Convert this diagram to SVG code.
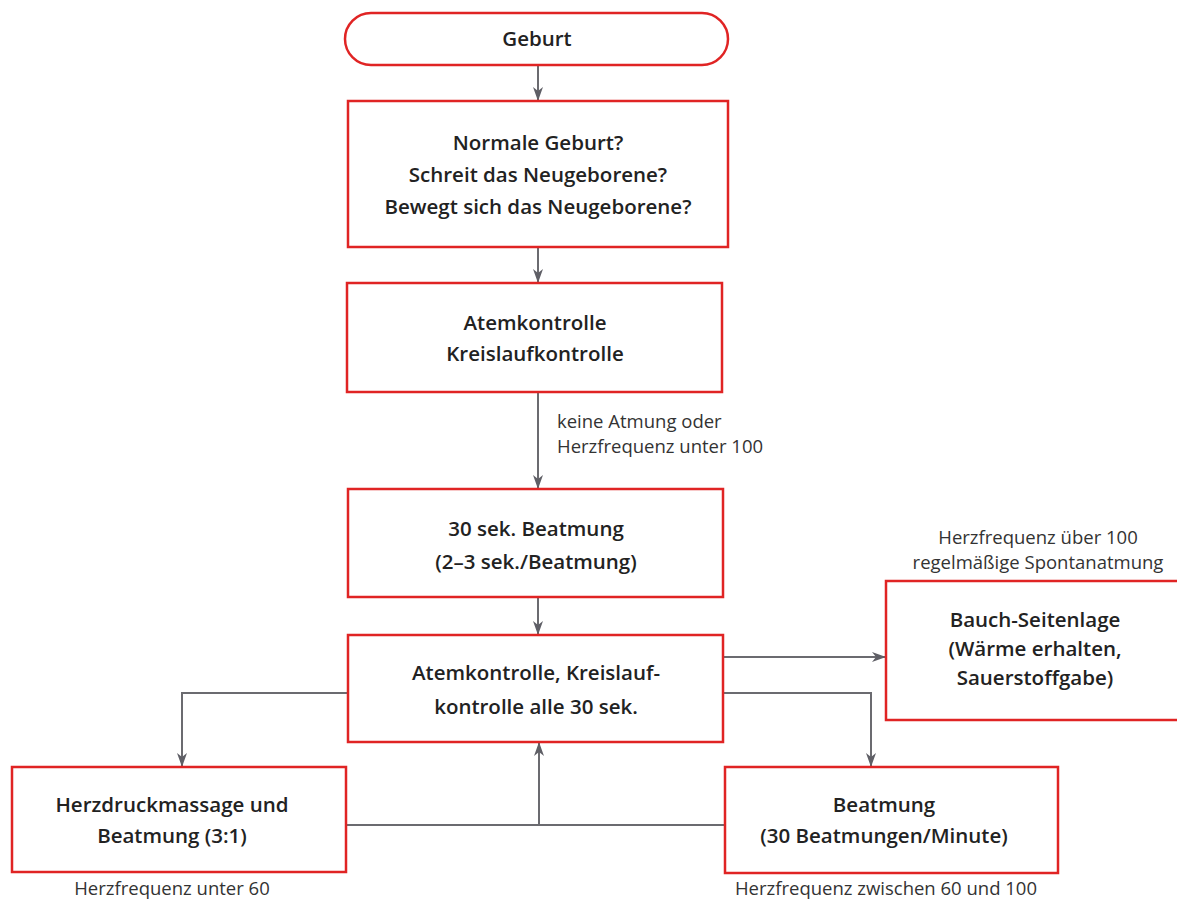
<svg xmlns="http://www.w3.org/2000/svg" width="1177" height="900" viewBox="0 0 1177 900">
<style>
.box{fill:#fff;stroke:#e02424;stroke-width:2.5}
.t{font-family:"Open Sans","Liberation Sans",sans-serif;font-size:20.5px;font-weight:600;fill:#222;text-anchor:middle}
.l{font-family:"Open Sans","Liberation Sans",sans-serif;font-size:18.5px;font-weight:400;fill:#333}
.c{fill:none;stroke:#6b6b70;stroke-width:2}
</style>
<defs>
<marker id="ah" viewBox="0 0 14 10" refX="14" refY="5" markerWidth="14" markerHeight="10" markerUnits="userSpaceOnUse" orient="auto">
<path d="M0,0 L14,5 L0,10 L4,5 Z" fill="#5f5f66"/>
</marker>
</defs>
<rect width="1177" height="900" fill="#fff"/>
<g id="connectors">
<line class="c" x1="538" y1="65" x2="538" y2="101" marker-end="url(#ah)"/>
<line class="c" x1="538" y1="247" x2="538" y2="283" marker-end="url(#ah)"/>
<line class="c" x1="538" y1="392" x2="538" y2="489" marker-end="url(#ah)"/>
<line class="c" x1="538" y1="597" x2="538" y2="635" marker-end="url(#ah)"/>
<line class="c" x1="723" y1="657" x2="886" y2="657" marker-end="url(#ah)"/>
<polyline class="c" points="723,693 871,693 871,767" marker-end="url(#ah)"/>
<polyline class="c" points="348,693 182,693 182,767" marker-end="url(#ah)"/>
<line class="c" x1="346" y1="825" x2="725" y2="825"/>
<line class="c" x1="539" y1="825" x2="539" y2="742" marker-end="url(#ah)"/>
<text class="l" x="557" y="428">keine Atmung oder</text>
<text class="l" x="557" y="453">Herzfrequenz unter 100</text>
<text class="l" x="1038" y="544" text-anchor="middle">Herzfrequenz über 100</text>
<text class="l" x="1038" y="569" text-anchor="middle">regelmäßige Spontanatmung</text>
<text class="l" x="172" y="895" text-anchor="middle">Herzfrequenz unter 60</text>
<text class="l" x="886" y="895" text-anchor="middle">Herzfrequenz zwischen 60 und 100</text>
</g>
<g id="n-geburt">
<rect class="box" x="345" y="13" width="383" height="52" rx="26"/>
<text class="t" x="537" y="46">Geburt</text>
</g>
<g id="n-pruefung">
<rect class="box" x="348" y="101" width="380" height="146"/>
<text class="t" x="538" y="150">Normale Geburt?</text>
<text class="t" x="538" y="182">Schreit das Neugeborene?</text>
<text class="t" x="538" y="214">Bewegt sich das Neugeborene?</text>
</g>
<g id="n-kontrolle1">
<rect class="box" x="347" y="283" width="375" height="109"/>
<text class="t" x="535" y="330">Atemkontrolle</text>
<text class="t" x="535" y="361">Kreislaufkontrolle</text>
</g>
<g id="n-beatmung30">
<rect class="box" x="348" y="489" width="375" height="108"/>
<text class="t" x="536" y="536">30 sek. Beatmung</text>
<text class="t" x="536" y="569">(2–3 sek./Beatmung)</text>
</g>
<g id="n-kontrolle2">
<rect class="box" x="348" y="635" width="375" height="107"/>
<text class="t" x="536" y="680">Atemkontrolle, Kreislauf-</text>
<text class="t" x="536" y="714">kontrolle alle 30 sek.</text>
</g>
<g id="n-bauch">
<rect class="box" x="886" y="581" width="300" height="139"/>
<text class="t" x="1035" y="627">Bauch-Seitenlage</text>
<text class="t" x="1035" y="656">(Wärme erhalten,</text>
<text class="t" x="1035" y="685">Sauerstoffgabe)</text>
</g>
<g id="n-herzdruck">
<rect class="box" x="12" y="767" width="334" height="105"/>
<text class="t" x="172" y="812">Herzdruckmassage und</text>
<text class="t" x="172" y="843">Beatmung (3:1)</text>
</g>
<g id="n-beatmung">
<rect class="box" x="725" y="767" width="333" height="106"/>
<text class="t" x="884" y="812">Beatmung</text>
<text class="t" x="884" y="843">(30 Beatmungen/Minute)</text>
</g>
</svg>
